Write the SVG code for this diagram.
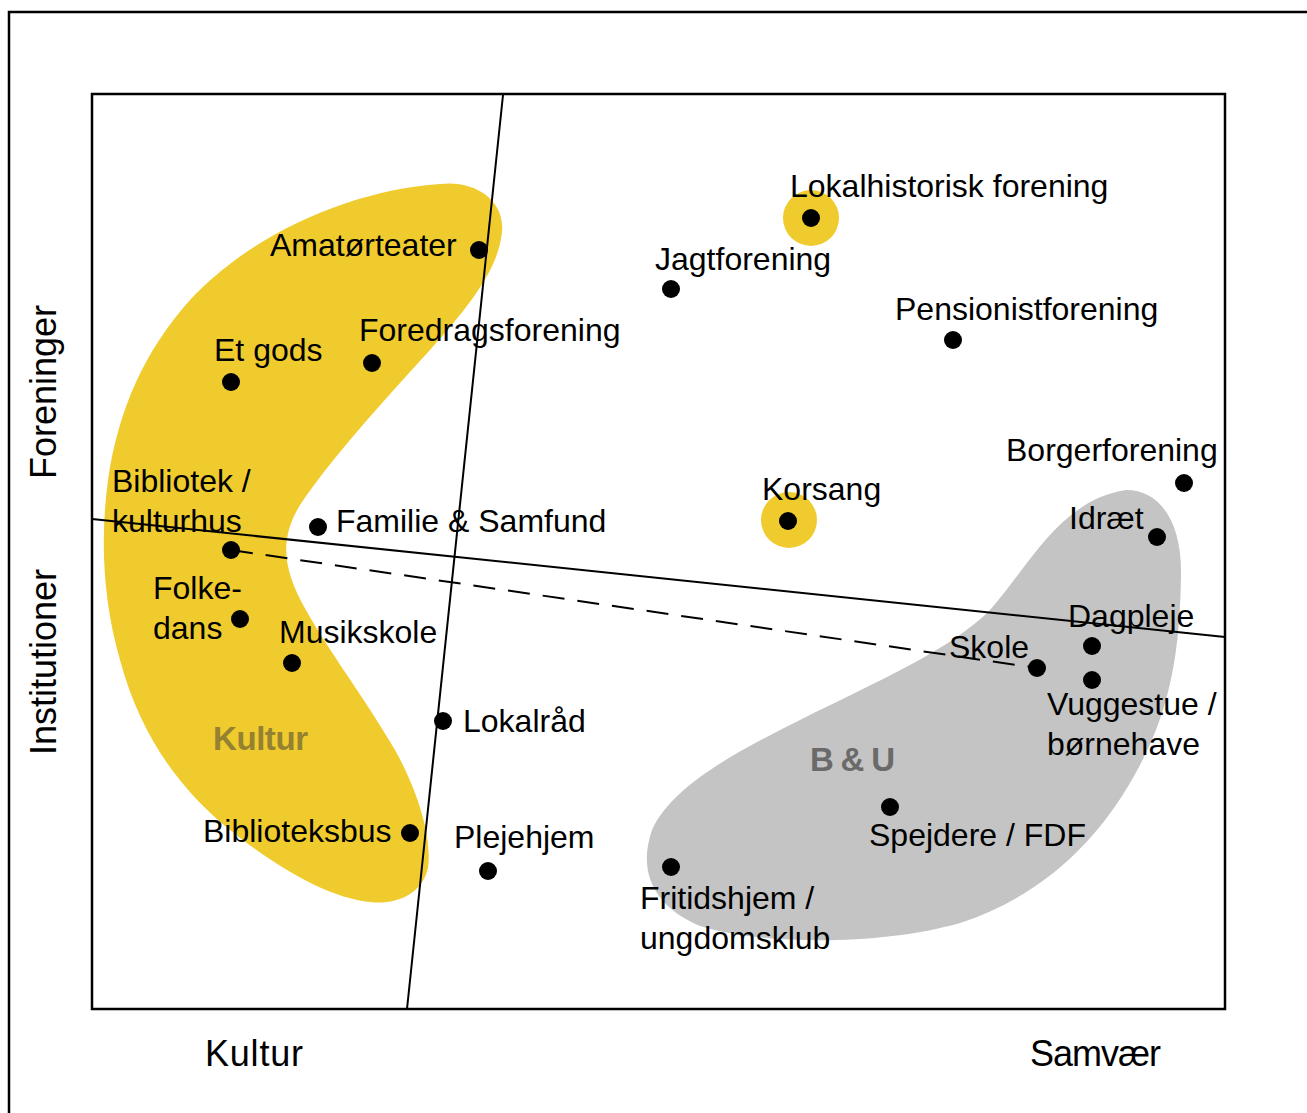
<svg xmlns="http://www.w3.org/2000/svg" width="1307" height="1113" viewBox="0 0 1307 1113">
<style>
text{font-family:"Liberation Sans",Arial,sans-serif;font-size:32px;fill:#000}
.ax{font-size:36px}
.grp{font-weight:bold;font-size:33px}
.dot{fill:#000}
.halo{fill:#F0CB2E}
.frame{fill:none;stroke:#000;stroke-width:2.5}
.ln{fill:none;stroke:#000;stroke-width:2}
</style>
<rect width="1307" height="1113" fill="#fff"/>
<path class="frame" d="M9,1113 V12 H1307"/>
<rect class="frame" x="92" y="94" width="1133" height="915"/>

<g id="regions">
<path id="kultur-region" fill="#F0CB2E" d="M440,184 C475,180 505,200 502,232 C498,270 470,305 430,350 C380,405 330,460 300,505 C282,535 282,560 298,595 C320,640 360,690 395,750 C420,795 432,840 428,868 C422,895 395,905 370,902 C330,898 280,870 230,830 C180,790 140,735 120,660 C103,600 100,540 108,480 C118,410 145,350 190,300 C250,235 350,190 440,184 Z"/>
<path id="bu-region" fill="#C4C4C4" d="M1126,490 C1162,490 1182,525 1181,575 C1180,645 1172,705 1140,765 C1100,842 1040,897 960,923 C880,946 760,945 700,926 C652,906 638,870 652,830 C672,785 740,750 800,720 C880,680 950,650 990,610 C1030,565 1060,500 1126,490 Z"/>
</g>

<g id="connectors">
<line class="ln" x1="503" y1="95" x2="407" y2="1009"/>
<line class="ln" x1="92" y1="519" x2="1225" y2="637"/>
<line class="ln" x1="231" y1="550" x2="1037" y2="668" stroke-dasharray="22,13"/>
</g>

<g id="n-lokalhistorisk"><circle class="halo" cx="811" cy="218" r="28"/><circle class="dot" cx="811" cy="218" r="9"/><text x="790" y="197">Lokalhistorisk forening</text></g>
<g id="n-jagt"><circle class="dot" cx="671" cy="289" r="9"/><text x="655" y="270">Jagtforening</text></g>
<g id="n-amator"><circle class="dot" cx="479" cy="250" r="9"/><text x="270" y="256">Amatørteater</text></g>
<g id="n-pension"><circle class="dot" cx="953" cy="340" r="9"/><text x="895" y="320">Pensionistforening</text></g>
<g id="n-etgods"><circle class="dot" cx="231" cy="382" r="9"/><text x="214" y="361">Et gods</text></g>
<g id="n-foredrag"><circle class="dot" cx="372" cy="363" r="9"/><text x="359" y="341">Foredragsforening</text></g>
<g id="n-borger"><circle class="dot" cx="1184" cy="483" r="9"/><text x="1006" y="461">Borgerforening</text></g>
<g id="n-korsang"><circle class="halo" cx="789" cy="520" r="28"/><circle class="dot" cx="788" cy="521" r="9"/><text x="762" y="500">Korsang</text></g>
<g id="n-idraet"><circle class="dot" cx="1157" cy="537" r="9"/><text x="1069" y="529">Idræt</text></g>
<g id="n-bibliotek"><circle class="dot" cx="231" cy="550" r="9"/><text x="112" y="492">Bibliotek /</text><text x="112" y="532">kulturhus</text></g>
<g id="n-familie"><circle class="dot" cx="318" cy="527" r="9"/><text x="336" y="532">Familie &amp; Samfund</text></g>
<g id="n-folkedans"><circle class="dot" cx="240" cy="619" r="9"/><text x="153" y="599">Folke-</text><text x="153" y="639">dans</text></g>
<g id="n-musikskole"><circle class="dot" cx="292" cy="663" r="9"/><text x="279" y="643">Musikskole</text></g>
<g id="n-dagpleje"><circle class="dot" cx="1092" cy="646" r="9"/><text x="1068" y="627">Dagpleje</text></g>
<g id="n-skole"><circle class="dot" cx="1037" cy="668" r="9"/><text x="949" y="658">Skole</text></g>
<g id="n-vuggestue"><circle class="dot" cx="1092" cy="680" r="9"/><text x="1047" y="715">Vuggestue /</text><text x="1047" y="755">børnehave</text></g>
<g id="n-lokalraad"><circle class="dot" cx="443" cy="721" r="9"/><text x="463" y="732">Lokalråd</text></g>
<g id="n-biblioteksbus"><circle class="dot" cx="410" cy="833" r="9"/><text x="203" y="842">Biblioteksbus</text></g>
<g id="n-plejehjem"><circle class="dot" cx="488" cy="871" r="9"/><text x="454" y="848">Plejehjem</text></g>
<g id="n-spejdere"><circle class="dot" cx="890" cy="807" r="9"/><text x="869" y="846">Spejdere / FDF</text></g>
<g id="n-fritidshjem"><circle class="dot" cx="671" cy="867" r="9"/><text x="640" y="909">Fritidshjem /</text><text x="640" y="949">ungdomsklub</text></g>

<g id="group-labels">
<text class="grp" x="213" y="750" textLength="95" style="fill:#958132">Kultur</text>
<text class="grp" x="810" y="771" textLength="85" style="fill:#6A6A6A">B &amp; U</text>
</g>

<g id="axis-labels">
<text class="ax" x="205" y="1066" textLength="98">Kultur</text>
<text class="ax" x="1030" y="1066" textLength="131">Samvær</text>
<text class="ax" transform="translate(56,392) rotate(-90)" text-anchor="middle">Foreninger</text>
<text class="ax" transform="translate(56,662) rotate(-90)" text-anchor="middle">Institutioner</text>
</g>
</svg>
